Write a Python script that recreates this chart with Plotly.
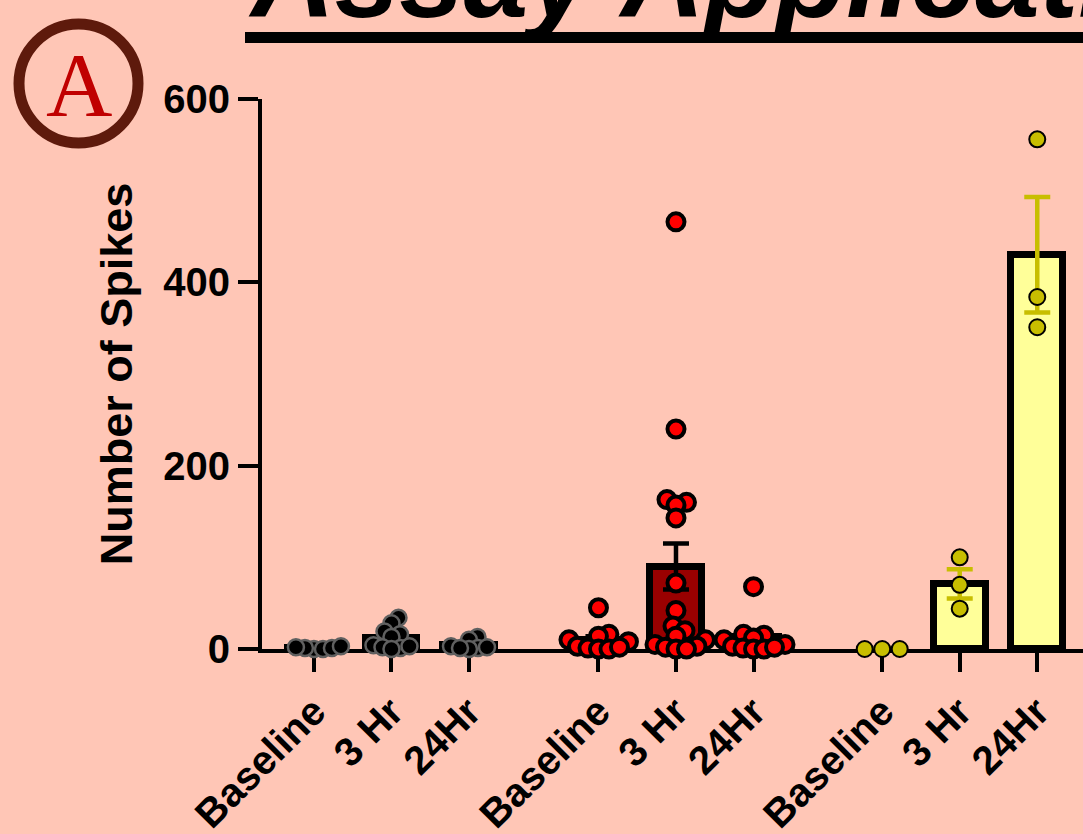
import plotly.graph_objects as go

# ---------------- data ----------------
tick_labels = ["Baseline", "3 Hr", "24Hr", "Baseline", "3 Hr", "24Hr", "Baseline", "3 Hr", "24Hr"]
positions = [0, 1, 2, 3.67, 4.67, 5.67, 7.33, 8.33, 9.33]

# group 1 (black)
g1_means = [1.5, 12, 4]
g1_sems = [0.5, 4, 2]
g1_baseline = [0, 1, 2, 0, 1, 3]
g1_3hr = [34, 28, 19, 16, 13, 4, 2, 1, 3, 0]
g1_24hr = [13, 10, 3, 1, 0, 2, 1]

# group 2 (red)
g2_means = [10, 90, 13]
g2_sems = [4, 25, 6]
g2_baseline = [45, 16, 14, 10, 8, 3, 1, 0, 0, 2]
g2_3hr = [466, 240, 163, 160, 157, 143, 72, 42, 25, 20, 14, 10, 5, 3, 2, 0, 0]
g2_24hr = [68, 16, 15, 12, 10, 5, 3, 1, 0, 0, 2]

# group 3 (yellow)
g3_means = [0, 71, 430]
g3_sems = [0, 16, 63]
g3_baseline = [0, 0, 0]
g3_3hr = [100, 70, 44]
g3_24hr = [556, 384, 351]

y_ticks = [0, 200, 400, 600]

# ---------------- styling / geometry ----------------
W, H = 1083, 834
ML, MR, MT, MB = 262, 0, 99, 185
PW, PH = W - ML - MR, H - MT - MB
XR = [-0.67, 9.92]
PX_PER_X = PW / (XR[1] - XR[0])
PX_PER_Y = PH / 600.0
BG = "#FFC6B6"
FONT = "Liberation Sans, Arial, sans-serif"


def px2paper_x(px):
    return (px - ML) / PW


def px2paper_y(py):
    return (H - MB - py) / PH


def swarm(vals, diam_px, factor=0.5, step=0.5):
    """deterministic beeswarm offsets (in x data units)"""
    placed = []
    mind = (diam_px * factor) ** 2
    order = sorted(range(len(vals)), key=lambda i: vals[i])
    res = [0.0] * len(vals)
    for i in order:
        y = vals[i] * PX_PER_Y
        k = 0
        while True:
            cands = [0.0] if k == 0 else [k * step, -k * step]
            found = None
            for c in cands:
                if all((c - px) ** 2 + (y - py) ** 2 >= mind for px, py in placed):
                    found = c
                    break
            if found is not None:
                break
            k += 1
        placed.append((found, y))
        res[i] = found / PX_PER_X
    return res


fig = go.Figure()

groups = [
    dict(means=g1_means, sems=g1_sems, pts=[g1_baseline, g1_3hr, g1_24hr], pos=positions[0:3],
         barfill="#000000", errcol="#000000", mfill="#000000", mline="#606060", msize=16, mlw=2.5,
         factor=0.48),
    dict(means=g2_means, sems=g2_sems, pts=[g2_baseline, g2_3hr, g2_24hr], pos=positions[3:6],
         barfill="#990000", errcol="#000000", mfill="#FF0000", mline="#000000", msize=17, mlw=4,
         factor=0.5),
    dict(means=g3_means, sems=g3_sems, pts=[g3_baseline, g3_3hr, g3_24hr], pos=positions[6:9],
         barfill="#FFFF99", errcol="#C8BE00", mfill="#C8BE00", mline="#000000", msize=16, mlw=2,
         factor=0.95),
]

for g in groups:
    fig.add_trace(go.Bar(
        x=g["pos"], y=g["means"], width=0.67,
        marker=dict(color=g["barfill"],
                    line=dict(color="#000000", width=[0 if m == 0 else 7 for m in g["means"]])),
        error_y=dict(type="data", array=g["sems"], visible=True, color=g["errcol"],
                     thickness=4.5, width=13),
        showlegend=False, hoverinfo="skip",
    ))

for g in groups:
    for p, vals in zip(g["pos"], g["pts"]):
        offs = swarm(vals, g["msize"] + g["mlw"], factor=g["factor"])
        fig.add_trace(go.Scatter(
            x=[p + o for o in offs], y=vals, mode="markers", cliponaxis=False,
            marker=dict(size=g["msize"], color=g["mfill"], line=dict(color=g["mline"], width=g["mlw"])),
            showlegend=False, hoverinfo="skip",
        ))

# title (cropped at top) with thick underline
fig.add_annotation(
    text="<b><i>Assay Application</i></b>", xref="paper", yref="paper",
    x=px2paper_x(246), y=px2paper_y(44), xanchor="left", yanchor="bottom",
    showarrow=False, font=dict(family=FONT, size=116, color="#000000"),
)
fig.add_shape(type="line", xref="paper", yref="paper",
              x0=px2paper_x(245), x1=px2paper_x(1100), y0=px2paper_y(37.5), y1=px2paper_y(37.5),
              line=dict(color="#000000", width=11))

# circled "A" logo
cx, cy, r = 78.5, 83.5, 59.5
fig.add_shape(type="circle", xref="paper", yref="paper",
              x0=px2paper_x(cx - r), x1=px2paper_x(cx + r), y0=px2paper_y(cy + r), y1=px2paper_y(cy - r),
              line=dict(color="#5E1A0C", width=11))
fig.add_annotation(
    text="A", xref="paper", yref="paper", x=px2paper_x(cx), y=px2paper_y(cy + 2),
    xanchor="center", yanchor="middle", showarrow=False,
    font=dict(family="Liberation Serif, Times New Roman, serif", size=92, color="#C00000"),
)

fig.update_layout(
    width=W, height=H, autosize=False,
    margin=dict(l=ML, r=MR, t=MT, b=MB, pad=0),
    paper_bgcolor=BG, plot_bgcolor=BG,
    showlegend=False, bargap=0,
    xaxis=dict(
        range=XR, tickmode="array", tickvals=positions, ticktext=tick_labels,
        showline=True, linecolor="#000000", linewidth=4, showgrid=False, zeroline=False,
        ticks="outside", ticklen=19, tickwidth=4, tickcolor="#000000", tickangle=-45,
        tickfont=dict(family=FONT, size=40, color="#000000", weight="bold"),
        layer="below traces", automargin=False, fixedrange=True,
    ),
    yaxis=dict(
        range=[0, 600], tickmode="array", tickvals=y_ticks, ticktext=[str(v) for v in y_ticks],
        showline=True, linecolor="#000000", linewidth=4, showgrid=False, zeroline=False,
        ticks="outside", ticklen=20, tickwidth=4, tickcolor="#000000",
        tickfont=dict(family=FONT, size=40, color="#000000", weight="bold"),
        title=dict(text="Number of Spikes", standoff=18,
                   font=dict(family=FONT, size=45, color="#000000", weight="bold")),
        layer="below traces", automargin=False, fixedrange=True,
    ),
)

fig.write_html(
    "out.html",
    config={"displayModeBar": False},
    post_script=(
        "document.body.style.margin='0px';"
        "document.body.style.padding='0px';"
        "document.body.style.overflow='hidden';"
        "document.body.style.background='" + BG + "';"
    ),
)
